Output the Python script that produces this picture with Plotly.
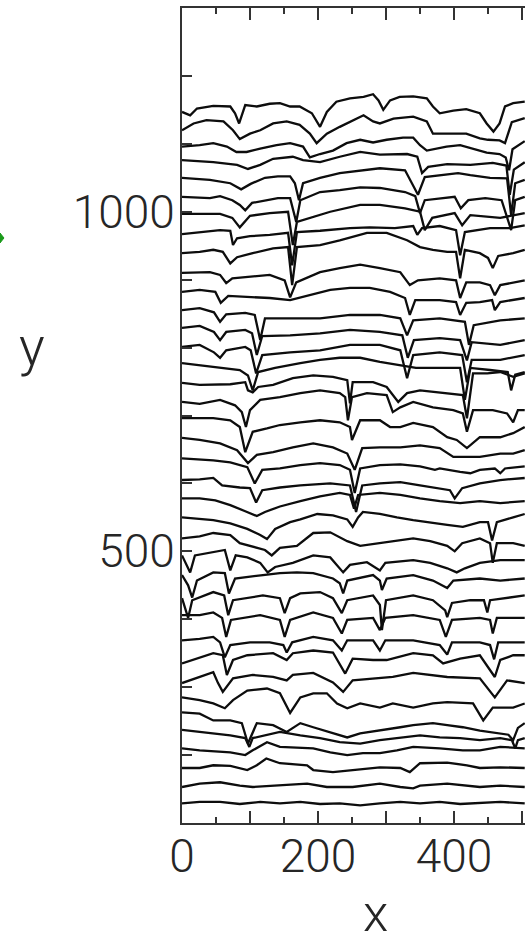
import plotly.graph_objects as go

# Stacked profiles, one (x, y) list per profile, t01 = top profile.
t01 = [(0,1147),(12,1142),(22,1152),(46,1156),(71,1155),(78,1145),(84,1130),(93,1157),(110,1155),(129,1159),(144,1160),(159,1155),(173,1155),(191,1145),(203,1125),(213,1147),(227,1162),(247,1167),(267,1169),(281,1173),(289,1164),(296,1150),(306,1164),(320,1169),(340,1170),(360,1167),(369,1155),(379,1145),(399,1149),(418,1151),(438,1145),(448,1130),(458,1118),(467,1130),(475,1155),(487,1160),(504,1162)]
t02 = [(0,1120),(17,1130),(36,1135),(61,1133),(75,1120),(85,1107),(100,1115),(115,1120),(134,1130),(154,1133),(173,1128),(188,1115),(198,1101),(213,1115),(232,1125),(252,1135),(267,1142),(281,1133),(291,1130),(311,1137),(340,1140),(360,1133),(369,1115),(389,1115),(418,1115),(438,1108),(450,1106),(467,1105),(475,1101),(485,1132),(504,1138)]
t03 = [(0,1096),(26,1098),(46,1101),(66,1096),(80,1088),(95,1088),(115,1093),(139,1098),(159,1101),(178,1096),(188,1080),(203,1085),(222,1090),(242,1101),(262,1106),(281,1102),(301,1106),(325,1109),(340,1109),(350,1098),(360,1090),(389,1096),(409,1098),(428,1093),(448,1087),(467,1085),(476,1080),(481,1061),(486,1092),(504,1104)]
t04 = [(0,1076),(46,1073),(81,1069),(97,1063),(115,1069),(134,1078),(163,1081),(178,1076),(203,1073),(232,1081),(262,1088),(291,1084),(331,1085),(346,1081),(353,1057),(362,1066),(390,1070),(424,1069),(457,1072),(477,1068),(482,1025),(488,1062),(504,1073)]
t05 = [(0,1050),(41,1047),(71,1042),(87,1033),(101,1041),(122,1050),(141,1052),(159,1052),(166,1042),(172,1017),(178,1042),(203,1050),(232,1057),(262,1061),(291,1064),(328,1061),(347,1025),(357,1051),(379,1054),(406,1057),(424,1054),(453,1050),(478,1049),(484,995),(490,1042),(504,1047)]
t06 = [(0,1022),(41,1020),(56,1023),(74,1017),(85,1010),(93,1002),(103,1013),(122,1017),(141,1020),(159,1020),(168,985),(174,1017),(203,1029),(232,1032),(262,1036),(291,1035),(328,1029),(343,1023),(350,998),(357,1017),(379,1020),(401,1022),(410,1005),(421,1017),(446,1020),(470,1017),(484,973),(490,1017),(504,1022)]
t07 = [(0,997),(56,997),(74,991),(85,977),(100,994),(129,998),(156,1000),(163,951),(169,985),(188,991),(218,1000),(262,1010),(291,1010),(328,1005),(350,1000),(357,973),(368,991),(401,998),(412,980),(424,995),(468,991),(504,998)]
t08 = [(0,967),(26,970),(56,973),(71,972),(75,951),(81,961),(100,964),(129,966),(156,969),(162,921),(169,970),(203,972),(247,976),(276,977),(313,976),(340,979),(346,966),(353,976),(379,979),(403,973),(409,936),(416,970),(453,976),(482,976),(504,980)]
t09 = [(0,939),(26,941),(46,944),(60,941),(71,924),(81,933),(104,939),(134,946),(156,948),(162,892),(169,948),(203,951),(232,958),(272,969),(301,969),(331,958),(350,948),(369,944),(390,941),(403,941),(409,902),(416,944),(438,939),(450,932),(457,917),(465,935),(487,939),(504,944)]
t10 = [(0,910),(41,911),(56,907),(65,895),(74,902),(100,904),(129,907),(151,899),(159,874),(168,896),(203,911),(232,917),(262,922),(291,917),(321,911),(335,892),(347,899),(379,902),(403,899),(409,873),(418,896),(438,896),(453,892),(460,877),(468,892),(504,899)]
t11 = [(0,882),(26,885),(49,882),(57,866),(68,876),(100,874),(129,873),(159,870),(188,877),(218,885),(247,888),(276,888),(306,882),(328,873),(335,848),(343,870),(379,870),(403,867),(409,848),(418,866),(438,867),(456,870),(460,855),(468,867),(504,873)]
t12 = [(0,855),(26,858),(47,852),(56,838),(65,849),(93,851),(107,848),(115,811),(122,843),(159,843),(203,843),(247,848),(291,848),(321,843),(331,818),(340,840),(379,843),(416,838),(422,804),(429,833),(468,840),(504,843)]
t13 = [(0,829),(26,832),(47,823),(56,811),(65,823),(93,826),(103,821),(110,789),(118,817),(159,818),(203,821),(247,826),(291,823),(324,818),(332,785),(341,811),(379,814),(409,811),(419,781),(426,808),(468,804),(504,811)]
t14 = [(0,801),(26,804),(47,793),(56,785),(65,796),(93,801),(101,796),(109,762),(118,789),(159,793),(203,796),(247,804),(291,804),(321,796),(331,755),(340,789),(379,793),(412,789),(419,749),(426,782),(468,782),(504,789)]
t15 = [(0,777),(26,774),(56,770),(85,767),(97,759),(104,737),(112,764),(137,770),(174,777),(203,782),(232,785),(262,785),(291,779),(321,774),(344,770),(379,770),(409,770),(416,723),(424,770),(453,767),(479,764),(484,737),(490,760),(504,764)]
t16 = [(0,748),(26,745),(71,746),(93,749),(97,737),(104,734),(112,742),(134,745),(163,755),(193,759),(222,757),(243,752),(247,718),(251,749),(281,749),(301,742),(318,720),(331,733),(350,737),(390,733),(413,730),(419,696),(428,762),(449,762),(468,764),(487,757),(504,762)]
t17 = [(0,720),(26,717),(56,723),(78,715),(88,705),(94,683),(100,708),(115,723),(144,727),(174,733),(203,737),(232,733),(240,727),(244,693),(250,727),(272,733),(301,730),(306,715),(310,705),(321,712),(340,720),(369,712),(399,708),(413,703),(419,676),(428,708),(457,708),(478,703),(487,690),(494,708),(504,708)]
t18 = [(0,696),(46,696),(71,693),(85,683),(93,646),(104,676),(125,681),(144,686),(174,690),(203,693),(232,690),(247,683),(250,664),(262,693),(291,693),(306,683),(321,683),(340,689),(369,683),(390,668),(404,664),(419,652),(438,668),(468,668),(487,674),(504,683)]
t19 = [(0,667),(26,664),(56,659),(81,649),(97,630),(110,642),(134,646),(163,653),(193,659),(222,653),(243,644),(254,620),(265,652),(291,653),(321,653),(350,656),(379,652),(399,639),(438,639),(468,644),(487,644),(504,649)]
t20 = [(0,637),(46,634),(71,631),(96,624),(107,600),(118,620),(144,622),(174,627),(203,630),(232,627),(247,620),(254,586),(262,622),(291,627),(321,628),(350,625),(372,620),(379,622),(409,617),(424,615),(438,620),(460,622),(468,615),(475,622),(504,625)]
t21 = [(0,605),(26,606),(46,608),(59,597),(85,594),(100,593),(109,572),(118,590),(144,594),(174,597),(218,600),(247,597),(256,558),(265,597),(291,600),(321,602),(350,597),(379,593),(394,590),(401,578),(412,593),(438,600),(468,605),(504,608)]
t22 = [(0,578),(26,578),(49,575),(71,568),(93,559),(110,552),(122,558),(144,566),(174,574),(203,581),(232,586),(247,583),(253,563),(259,583),(291,586),(321,583),(350,578),(379,574),(409,571),(438,574),(468,571),(504,574)]
t23 = [(0,550),(46,546),(71,541),(96,533),(115,524),(125,518),(137,533),(159,543),(174,547),(199,555),(222,553),(243,547),(251,536),(259,550),(266,558),(291,555),(316,550),(340,546),(390,539),(413,536),(438,543),(450,543),(456,516),(463,543),(487,550),(504,555)]
t24 = [(0,519),(26,522),(46,527),(71,524),(85,512),(100,508),(122,502),(132,494),(144,505),(169,508),(193,527),(218,528),(243,515),(262,508),(291,512),(316,516),(340,519),(365,515),(390,508),(401,500),(412,512),(438,519),(453,512),(457,483),(463,512),(487,512),(504,508)]
t25 = [(0,494),(7,480),(12,469),(19,494),(46,499),(63,502),(71,472),(79,494),(96,491),(115,483),(126,469),(137,477),(163,483),(193,494),(218,491),(237,469),(247,480),(272,484),(291,472),(299,483),(340,487),(365,483),(390,475),(404,469),(416,475),(438,483),(468,487),(504,487)]
t26 = [(0,465),(9,450),(15,432),(22,457),(46,469),(63,468),(69,438),(78,460),(119,465),(144,468),(169,469),(193,468),(222,460),(232,453),(237,438),(243,457),(281,465),(291,457),(294,443),(301,460),(340,465),(369,457),(390,446),(399,457),(438,460),(468,457),(504,460)]
t27 = [(0,431),(6,413),(9,402),(15,428),(46,440),(62,435),(68,406),(75,428),(119,435),(144,431),(151,409),(159,431),(174,438),(203,440),(222,431),(235,409),(243,428),(281,435),(291,421),(294,384),(300,428),(340,435),(369,428),(387,413),(390,403),(397,424),(424,428),(444,428),(449,410),(453,428),(504,435)]
t28 = [(0,406),(26,406),(46,410),(59,402),(65,374),(72,399),(115,406),(144,399),(151,374),(159,399),(193,410),(222,402),(235,379),(243,399),(281,402),(291,384),(299,402),(340,406),(379,399),(388,374),(397,399),(438,402),(453,399),(457,379),(463,402),(504,402)]
t29 = [(0,369),(26,371),(46,374),(56,366),(63,344),(71,362),(100,366),(129,366),(149,362),(154,351),(162,366),(193,374),(222,369),(235,354),(243,369),(281,369),(291,354),(299,369),(340,369),(379,362),(390,348),(397,366),(438,366),(453,362),(459,341),(465,366),(504,366)]
t30 = [(0,335),(26,344),(46,350),(60,347),(66,318),(75,340),(96,347),(134,350),(154,340),(163,350),(193,354),(222,351),(240,320),(251,342),(281,340),(301,340),(340,350),(369,347),(384,335),(409,342),(438,347),(460,315),(468,340),(487,347),(504,347)]
t31 = [(0,306),(26,315),(46,322),(53,306),(60,293),(75,313),(104,318),(134,315),(154,310),(163,318),(193,321),(222,307),(237,293),(251,310),(281,313),(310,315),(340,321),(369,318),(390,315),(438,313),(460,285),(478,310),(504,306)]
t32 = [(0,285),(26,281),(46,276),(63,269),(75,281),(96,295),(125,298),(144,291),(159,262),(174,285),(193,291),(213,291),(228,276),(243,269),(262,276),(291,270),(310,276),(340,270),(369,276),(390,278),(428,276),(443,251),(457,270),(487,270),(504,276)]
t33 = [(0,263),(26,261),(46,251),(71,251),(88,247),(97,217),(110,247),(134,244),(154,234),(174,247),(193,241),(222,232),(243,226),(262,232),(291,236),(321,241),(340,244),(369,247),(390,244),(413,241),(438,236),(480,230),(487,222),(494,240),(504,247)]
t34 = [(0,237),(46,232),(71,229),(93,225),(99,212),(104,225),(144,234),(174,229),(203,225),(232,219),(262,217),(291,222),(321,226),(350,229),(379,226),(409,225),(438,222),(468,225),(485,222),(490,210),(494,222),(504,225)]
t35 = [(0,210),(26,207),(71,204),(93,200),(104,207),(125,219),(144,212),(193,210),(218,204),(243,200),(266,203),(291,203),(316,207),(340,212),(379,210),(413,207),(438,207),(468,212),(504,210)]
t36 = [(0,181),(26,181),(46,185),(71,184),(96,178),(110,185),(124,195),(144,188),(184,185),(193,178),(222,175),(251,178),(291,182),(321,181),(335,175),(350,188),(390,189),(419,185),(438,181),(468,182),(504,181)]
t37 = [(0,153),(26,158),(56,160),(85,155),(104,153),(144,155),(184,158),(213,153),(251,153),(291,158),(321,153),(340,151),(350,155),(390,158),(438,153),(468,155),(504,153)]
t38 = [(0,129),(26,131),(56,131),(85,128),(115,131),(144,129),(174,131),(203,128),(232,129),(262,126),(291,129),(321,131),(350,129),(379,131),(409,128),(438,129),(468,131),(504,129)]

profiles = [t01, t02, t03, t04, t05, t06, t07, t08, t09, t10,
            t11, t12, t13, t14, t15, t16, t17, t18, t19, t20,
            t21, t22, t23, t24, t25, t26, t27, t28, t29, t30,
            t31, t32, t33, t34, t35, t36, t37, t38]

x_tick_vals = [0, 100, 200, 300, 400, 500]
x_tick_text = ["0", "", "200", "", "400", ""]
y_tick_vals = [100, 200, 300, 400, 500, 600, 700, 800, 900, 1000, 1100, 1200, 1300]
y_tick_text = ["", "", "", "", "500", "", "", "", "", "1000", "", "", ""]

X_RANGE = [0, 504.4]
Y_RANGE = [100, 1300]

FONT = "Roboto, Liberation Sans, Arial, sans-serif"
TEXT = "#262626"
INK = "#0d0d0d"
AXIS = "#333333"

fig = go.Figure()
for pts in profiles:
    fig.add_trace(go.Scatter(
        x=[p[0] for p in pts],
        y=[p[1] for p in pts],
        mode="lines",
        line=dict(color=INK, width=2.3),
        showlegend=False,
        hoverinfo="skip",
    ))

axis_common = dict(
    showgrid=False,
    zeroline=False,
    showline=True,
    linecolor=AXIS,
    linewidth=2,
    ticks="inside",
    tickcolor=AXIS,
    tickwidth=1.5,
    tickfont=dict(family=FONT, size=46, color=TEXT, weight=300),
    tickmode="array",
)

fig.update_xaxes(
    **axis_common,
    range=X_RANGE,
    tickvals=x_tick_vals,
    ticktext=x_tick_text,
    ticklen=12,
    mirror="ticks",
    ticklabelstandoff=-8,
    minor=dict(ticks="inside", ticklen=6, tickmode="linear", tick0=0, dtick=50,
               tickcolor=AXIS, tickwidth=1.5),
)
fig.update_yaxes(
    **axis_common,
    range=Y_RANGE,
    tickvals=y_tick_vals,
    ticktext=y_tick_text,
    ticklen=10,
    mirror=False,
    ticklabelstandoff=-4,
)

# axis titles
fig.add_annotation(text="x", xref="paper", yref="paper", x=0.563, y=-0.1515,
                   showarrow=False, xanchor="center", yanchor="bottom",
                   font=dict(family=FONT, size=52, color=TEXT, weight=300))
fig.add_annotation(text="y", xref="paper", yref="paper", x=-0.437, y=0.585,
                   showarrow=False, xanchor="center", yanchor="middle",
                   font=dict(family=FONT, size=54, color=TEXT, weight=300))

# small green pointer at the left edge
fig.add_shape(type="path", xref="paper", yref="paper",
              path="M -0.5306 0.7239 L -0.5190 0.7178 L -0.5306 0.7117 Z",
              fillcolor="#1a9a1a", line=dict(color="#1a9a1a", width=1))

fig.update_layout(
    width=525, height=948,
    margin=dict(l=182, r=0, t=8, b=125),
    paper_bgcolor="white",
    plot_bgcolor="white",
    showlegend=False,
)

fig.write_html("out.html")
